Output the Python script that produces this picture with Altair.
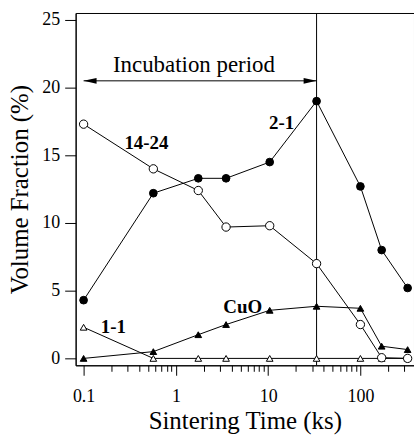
import altair as alt
import pandas as pd

# Sintering time (ks)
times = [0.1, 0.57, 1.75, 3.5, 10.4, 33.5, 100, 170, 325]
# Volume fractions (%)
phase_21 = [4.3, 12.2, 13.3, 13.3, 14.5, 19.0, 12.7, 8.0, 5.2]
phase_1424 = [17.3, 14.0, 12.4, 9.7, 9.8, 7.0, 2.5, 0.05, 0.0]
phase_cuo = [0.0, 0.5, 1.75, 2.5, 3.55, 3.85, 3.7, 0.9, 0.65]
phase_11 = [2.3, 0.0, 0.0, 0.0, 0.0, 0.0, 0.0, 0.0, 0.0]

# annotations
label_text = ["14-24", "2-1", "CuO", "1-1"]
label_x = [0.48, 14.0, 5.3, 0.21]
label_y = [15.9, 17.35, 3.8, 2.3]
incub_start = 0.1
incub_end = 33.5
incub_y = 20.5
incub_text_x = 1.57
incub_text_y = 21.7

FONT = "Liberation Serif"
W, H = 340, 354

xscale = alt.Scale(type="log", domain=[0.08198, 381], nice=False)
yscale = alt.Scale(domain=[-0.51, 25.51], nice=False, zero=False)

minor_vals = [0.1, 0.2, 0.3, 0.4, 0.5, 0.6, 0.7, 0.8, 0.9,
              1, 2, 3, 4, 5, 6, 7, 8, 9,
              10, 20, 30, 40, 50, 60, 70, 80, 90,
              100, 200, 300]
is_major = "abs(log(datum.value)/log(10) - round(log(datum.value)/log(10))) < 0.001"

xaxis = alt.Axis(values=minor_vals, title="Sintering Time (ks)",
                 labelExpr=f"{is_major} ? datum.label : ''",
                 tickSize={"expr": f"{is_major} ? 10 : 6"},
                 grid=False, domainColor="black", tickColor="black",
                 labelFont=FONT, labelFontSize=18, labelColor="black",
                 labelPadding=12, titleFont=FONT, titleFontSize=25,
                 titleFontWeight="normal", titleColor="black", titlePadding=4,
                 labelFlush=False, labelOverlap=False)
yaxis = alt.Axis(values=[0, 5, 10, 15, 20, 25], title="Volume Fraction (%)",
                 tickSize=11, grid=False, domainColor="black", tickColor="black",
                 labelFont=FONT, labelFontSize=18, labelColor="black",
                 labelPadding=5, titleFont=FONT, titleFontSize=25,
                 titleFontWeight="normal", titleColor="black", titlePadding=9,
                 labelFlush=False)

def series_df(vals):
    return pd.DataFrame({"t": times, "v": vals})

def line_layer(vals):
    return alt.Chart(series_df(vals)).mark_line(color="black", strokeWidth=1).encode(
        x=alt.X("t:Q", scale=xscale, axis=xaxis),
        y=alt.Y("v:Q", scale=yscale, axis=yaxis))

def point_layer(vals, shape, filled, size):
    return alt.Chart(series_df(vals)).mark_point(
        shape=shape, filled=True, fill="black" if filled else "white",
        stroke="black", strokeWidth=1, size=size, opacity=1).encode(
        x=alt.X("t:Q", scale=xscale), y=alt.Y("v:Q", scale=yscale))

vline = alt.Chart(pd.DataFrame({"t": [incub_end]})).mark_rule(
    color="black", strokeWidth=1).encode(
    x=alt.X("t:Q", scale=xscale), y=alt.value(0), y2=alt.value(H))

arrow_df = pd.DataFrame({"t0": [incub_start], "t1": [incub_end], "v": [incub_y]})
arrow_line = alt.Chart(arrow_df).mark_rule(color="black", strokeWidth=1).encode(
    x=alt.X("t0:Q", scale=xscale), x2="t1:Q", y=alt.Y("v:Q", scale=yscale))
head_left = alt.Chart(pd.DataFrame({"t": [incub_start], "v": [incub_y]})).mark_point(
    shape="M0,0L1,-0.22L1,0.22Z", filled=True, color="black", size=676, opacity=1,
    strokeWidth=0).encode(x=alt.X("t:Q", scale=xscale), y=alt.Y("v:Q", scale=yscale))
head_right = alt.Chart(pd.DataFrame({"t": [incub_end], "v": [incub_y]})).mark_point(
    shape="M0,0L-1,-0.22L-1,0.22Z", filled=True, color="black", size=676, opacity=1,
    strokeWidth=0).encode(x=alt.X("t:Q", scale=xscale), y=alt.Y("v:Q", scale=yscale))

incub_text = alt.Chart(pd.DataFrame({"t": [incub_text_x], "v": [incub_text_y],
                                     "s": ["Incubation period"]})).mark_text(
    font=FONT, fontSize=23, color="black").encode(
    x=alt.X("t:Q", scale=xscale), y=alt.Y("v:Q", scale=yscale), text="s:N")

labels = alt.Chart(pd.DataFrame({"t": label_x, "v": label_y, "s": label_text})).mark_text(
    font=FONT, fontSize=19, fontWeight="bold", color="black").encode(
    x=alt.X("t:Q", scale=xscale), y=alt.Y("v:Q", scale=yscale), text="s:N")

chart = alt.layer(
    vline,
    line_layer(phase_21), line_layer(phase_1424), line_layer(phase_cuo), line_layer(phase_11),
    point_layer(phase_11, "triangle-up", False, 45),
    point_layer(phase_cuo, "triangle-up", True, 45),
    point_layer(phase_1424, "circle", False, 70),
    point_layer(phase_21, "circle", True, 60),
    arrow_line, head_left, head_right, incub_text, labels,
).properties(
    width=W, height=H,
    autosize=alt.AutoSizeParams(type="none"),
    padding={"left": 76, "top": 12, "right": 0, "bottom": 74},
    background="white",
).configure_view(stroke="black", strokeWidth=1)

chart.save("out.html", embed_options={"renderer": "svg", "actions": False})
